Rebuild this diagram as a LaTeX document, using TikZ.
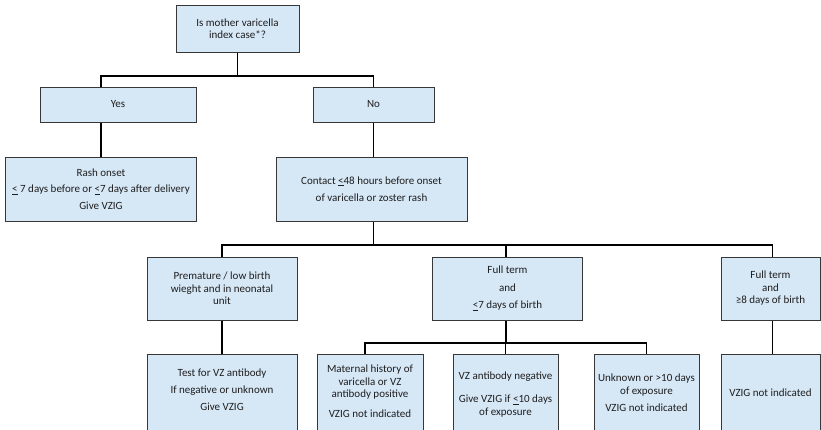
\documentclass[tikz,border=0pt]{standalone}
\usepackage{fontspec}
\setmainfont{Carlito}
\usetikzlibrary{backgrounds}
\definecolor{boxfill}{RGB}{214,231,246}
\definecolor{boxline}{RGB}{55,55,55}
\definecolor{txtcol}{RGB}{30,30,30}
\tikzset{
  box/.style={draw=boxline, line width=0.9pt, fill=boxfill, inner sep=0pt, align=center,
    text=txtcol, font=\fontsize{11}{12.5}\selectfont},
  txt/.style={inner sep=0pt, align=center, text=txtcol, font=\fontsize{11}{12.5}\selectfont},
  conn/.style={draw=black, line width=1.3pt}
}
\begin{document}
\begin{tikzpicture}[x=1pt,y=-1pt]
\useasboundingbox (0,0) rectangle (821,429);
\clip (0,0) rectangle (821,429);
% level 1
\node[box, minimum width=123pt, minimum height=47pt] (top) at (237.5,28.5) {Is mother varicella\\index case*?};
% level 2
\node[box, minimum width=156pt, minimum height=35pt] (yes) at (118,104.5) {Yes};
\node[box, minimum width=121pt, minimum height=35pt] (no) at (373.5,104.5) {No};
\node[box, minimum width=191pt, minimum height=64pt] (rash) at (101,189)
  {Rash onset\\[4pt]\underline{<} 7 days before or \underline{<}7 days after delivery\\[4pt]Give VZIG};
\node[box, minimum width=191pt, minimum height=64pt] (contact) at (371.5,189)
  {Contact \underline{<}48 hours before onset\\[4.5pt]of varicella or zoster rash};
% level 3
\node[box, minimum width=150pt, minimum height=63pt] (prem) at (222,288.5)
  {Premature / low birth\\wieght and in neonatal\\unit};
\node[box, minimum width=150pt, minimum height=63pt] (ft7) at (507.5,288.5)
  {Full term\\[5pt]and\\[5pt]\underline{<}7 days of birth};
\node[box, minimum width=99pt, minimum height=63pt] (ft8) at (770.5,288.5)
  {Full term\\and\\≥8 days of birth};
% level 4 (boxes run past the lower edge)
\node[box, minimum width=150pt, minimum height=90pt] (test) at (222,399) {};
\node[box, minimum width=106pt, minimum height=90pt] (mat) at (370,399) {};
\node[box, minimum width=105pt, minimum height=90pt] (vzneg) at (505.5,399) {};
\node[box, minimum width=105pt, minimum height=90pt] (unk) at (646.5,399) {};
\node[box, minimum width=99pt, minimum height=90pt] (vz8) at (770.5,399) {};
\node[txt] (testt) at (222,390) {Test for VZ antibody\\[4.5pt]If negative or unknown\\[4.5pt]Give VZIG};
\node[txt] (matt) at (370,391.5) {Maternal history of\\varicella or VZ\\antibody positive\\[7.5pt]VZIG not indicated};
\node[txt] (vznegt) at (505.5,394.5) {VZ antibody negative\\[10.5pt]Give VZIG if \underline{<}10 days\\of exposure};
\node[txt] (unkt) at (646.5,392.5) {Unknown or >10 days\\of exposure\\[4.5pt]VZIG not indicated};
\node[txt] (vz8t) at (770.5,393) {VZIG not indicated};
% junction rows
\coordinate (r1) at (0,76);
\coordinate (r2) at (0,245);
\coordinate (r3) at (0,343);
\begin{pgfonlayer}{background}
\draw[conn] (top.south) -- (top.south |- r1);
\draw[conn] (rash.north) -- (rash.north |- r1) -| (no.north);
\draw[conn] (no.south) -- (no.south |- r2);
\draw[conn] (prem.north) -- (prem.north |- r2) -| ([xshift=2pt]ft8.north);
\draw[conn] ([xshift=-1.5pt]ft7.north) -- ([xshift=-1.5pt]ft7.north |- r2);
\draw[conn] (prem.south) -- (test.north);
\draw[conn] ([xshift=2pt]ft8.south) -- ([xshift=2pt]vz8.north);
\draw[conn] ([xshift=-1.5pt]ft7.south) -- ([xshift=-1.5pt]ft7.south |- r3);
\draw[conn] ([xshift=-5pt]mat.north) -- ([xshift=-5pt]mat.north |- r3) -| (unk.north);
\draw[conn] (vzneg.north) -- (vzneg.north |- r3);
\end{pgfonlayer}
\end{tikzpicture}
\end{document}
